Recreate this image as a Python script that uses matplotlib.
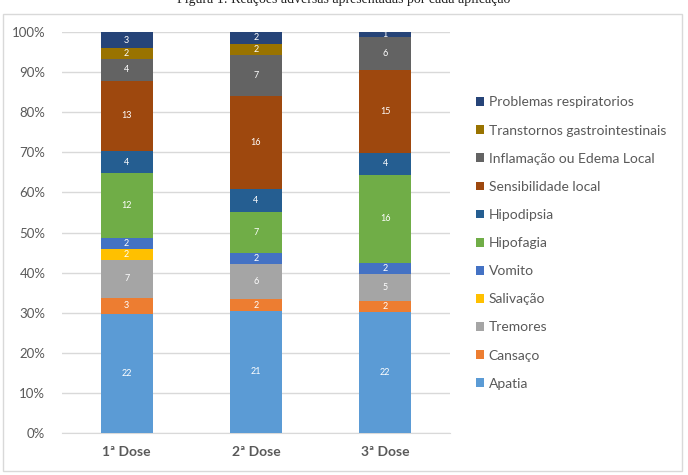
import numpy as np
import matplotlib
matplotlib.use('Agg')
import matplotlib.pyplot as plt
from matplotlib.patches import Rectangle

doses = ['1ª Dose', '2ª Dose', '3ª Dose']

# series ordered bottom -> top
series_names = ['Apatia', 'Cansaço', 'Tremores', 'Salivação', 'Vomito', 'Hipofagia',
                'Hipodipsia', 'Sensibilidade local', 'Inflamação ou Edema Local',
                'Transtornos gastrointestinais', 'Problemas respiratorios']
apatia = [22, 21, 22]
cansaco = [3, 2, 2]
tremores = [7, 6, 5]
salivacao = [2, 0, 0]
vomito = [2, 2, 2]
hipofagia = [12, 7, 16]
hipodipsia = [4, 4, 4]
sensibilidade = [13, 16, 15]
inflamacao = [4, 7, 6]
transtornos = [2, 2, 0]
problemas = [3, 2, 1]

colors = ['#5B9BD5', '#ED7D31', '#A5A5A5', '#FFC000', '#4472C4', '#70AD47',
          '#255E91', '#9E480E', '#636363', '#997300', '#264478']

plt.rcParams['font.family'] = ['Lato', 'DejaVu Sans']

data = np.array([apatia, cansaco, tremores, salivacao, vomito, hipofagia,
                 hipodipsia, sensibilidade, inflamacao, transtornos, problemas], dtype=float)
pct = data / data.sum(axis=0) * 100

fig = plt.figure(figsize=(6.88, 4.75), dpi=100)
W, H = 688, 475

# title (cut off at the top in the original)
fig.text(0.5, 1 - 0 / H, 'Figura 1: Reações adversas apresentadas por cada aplicação',
         ha='center', va='center', fontsize=10, family='Liberation Serif', color='#222222')

# outer chart frame
fig.patches.append(Rectangle((3 / W, 1 - 471 / H), 679 / W, 457 / H, transform=fig.transFigure,
                             fill=False, edgecolor='#D9D9D9', linewidth=1))

ax = fig.add_axes([62 / W, 1 - 433 / H, 388 / W, 401 / H])
x = np.arange(len(doses))
bottom = np.zeros(len(doses))
handles = []
for i, name in enumerate(series_names):
    b = ax.bar(x, pct[i], 0.4, bottom=bottom, color=colors[i], label=name, zorder=3)
    handles.append(b)
    for j in range(len(doses)):
        if data[i, j] > 0:
            ax.text(x[j], bottom[j] + pct[i, j] / 2, f'{int(data[i, j])}', ha='center',
                    va='center', fontsize=6.5, color='white', zorder=4)
    bottom += pct[i]

ax.set_xlim(-0.5, 2.5)
ax.set_ylim(0, 100)
ax.set_yticks(np.arange(0, 101, 10))
ax.set_yticklabels([f'{v}%' for v in range(0, 101, 10)])
ax.set_xticks(x)
ax.set_xticklabels(doses, fontsize=10, fontweight='bold', color='#595959')
ax.tick_params(axis='y', labelsize=9.5, colors='#595959', length=0, pad=12)
ax.tick_params(axis='x', length=0, pad=9)
ax.grid(axis='y', color='#D9D9D9', linewidth=1, zorder=0)
for s in ['top', 'right', 'left']:
    ax.spines[s].set_visible(False)
ax.spines['bottom'].set_color('#D9D9D9')

leg = fig.legend(handles[::-1], series_names[::-1], loc='upper left',
                 bbox_to_anchor=(463 / W, 1 - 84 / H), frameon=False, fontsize=10,
                 handlelength=0.6, handleheight=0.6, handletextpad=0.35,
                 labelspacing=1.16, labelcolor='#595959')

fig.savefig('out.png', dpi=100)
